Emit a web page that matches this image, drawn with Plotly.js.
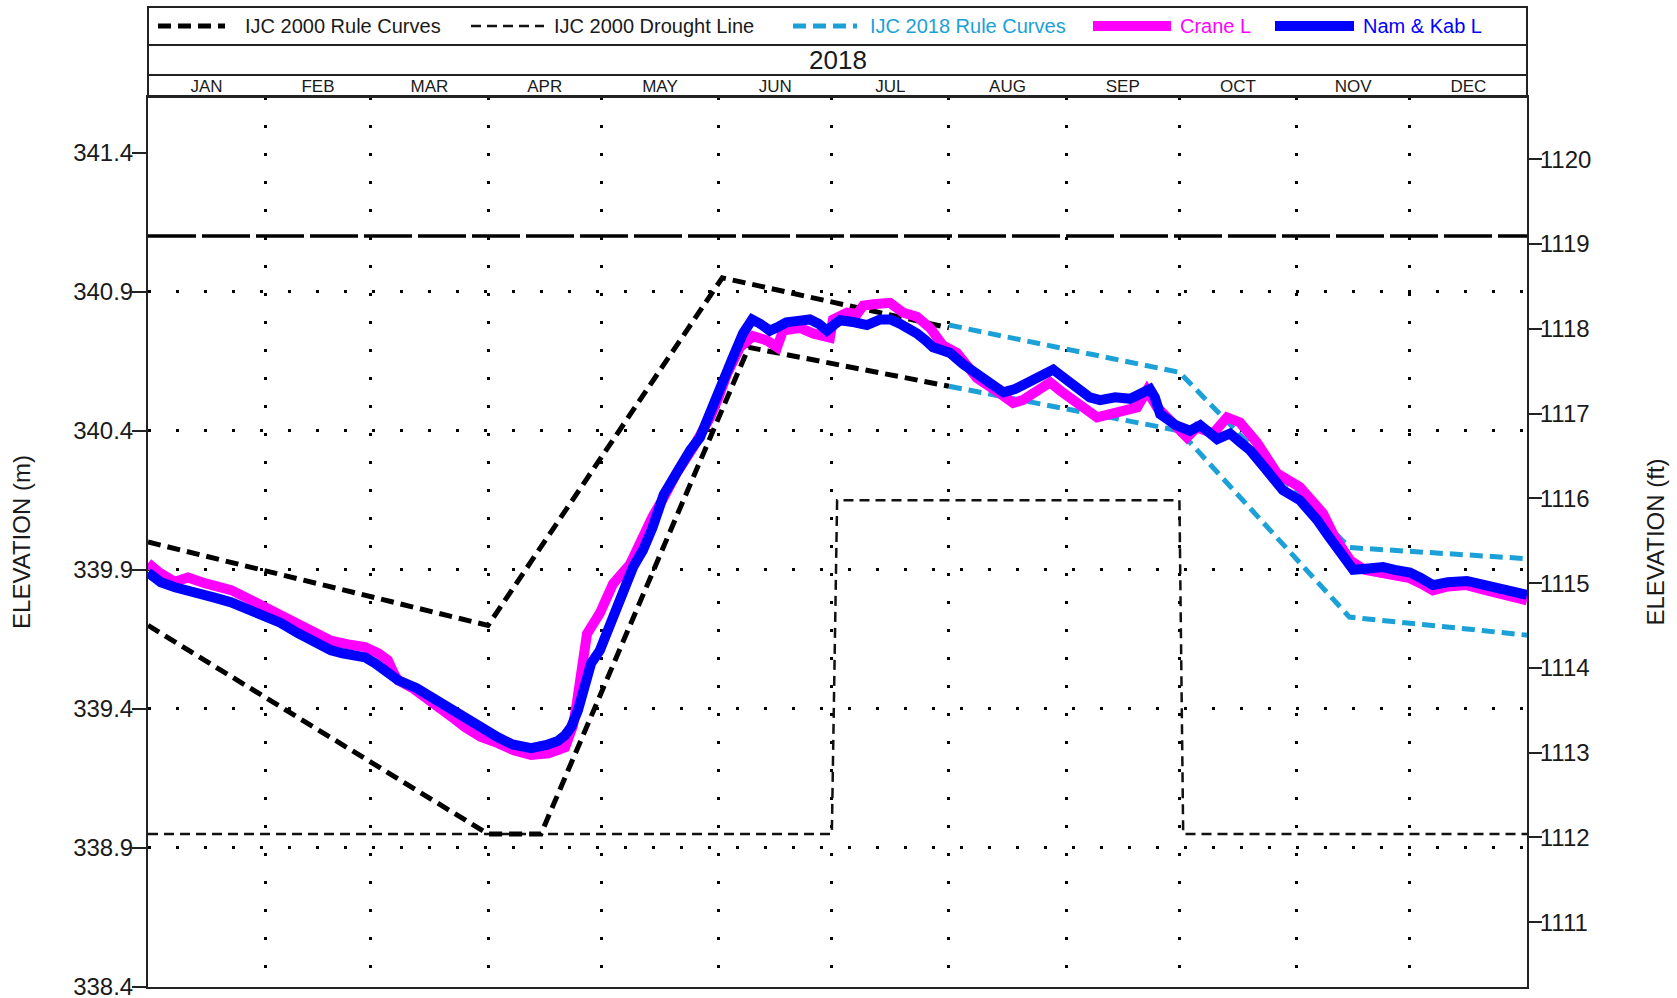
<!DOCTYPE html>
<html><head><meta charset="utf-8">
<script src="https://cdn.plot.ly/plotly-3.0.1.min.js"></script>
<style>html,body{margin:0;padding:0;background:#fff;}#chart{width:1677px;height:998px;}</style>
</head><body><div id="chart"></div>
<script>
// ---------------- data ----------------
const yearLabel = '2018';
const monthLabels = ['JAN','FEB','MAR','APR','MAY','JUN','JUL','AUG','SEP','OCT','NOV','DEC'];
const monthStartDays = [0,31,59,90,120,151,181,212,243,273,304,334,365];
const elevTicksM = [338.4,338.9,339.4,339.9,340.4,340.9,341.4];
const elevTicksFt = [1111,1112,1113,1114,1115,1116,1117,1118,1119,1120];
const gridLevelsM = [338.9,339.4,339.9,340.4,340.9];
const elevRangeM = [338.4,341.6];

const namKabDay = [0,3.4,7.1,13.2,17.6,22,28.9,31,35,39.7,45,48.4,51.5,54.8,57.5,60.1,63,66.2,71,74.9,79,83.9,88.3,92.6,96.5,101.4,105.5,108.5,110.4,112,113.8,115.5,117.3,119.6,121.8,124.1,128.4,131,133.5,136.5,140.7,143.5,146.1,148.5,150.6,152.8,154.8,157.5,159.9,162,164.6,167,169,172,175.2,177.5,179.7,181.5,183.2,187,190.3,193.8,196.5,199,201.5,203.5,205.8,207.8,210,212.3,215.7,219.4,223,226.4,229.5,232.6,236,239.6,241.5,243.2,246,249.3,252,256,260,263,265.2,266.5,267.9,270,272,275.8,278.5,283,286.4,289,291.7,296,300.4,304.9,307,309.4,312.5,315.5,319,323,326.9,330,334,337,340.1,344,349.1,353,357.9,361,365];
const namKabElev = [339.89,339.855,339.837,339.82,339.80,339.783,339.748,339.73,339.71,339.672,339.635,339.611,339.60,339.593,339.585,339.564,339.535,339.503,339.475,339.442,339.41,339.37,339.335,339.298,339.272,339.259,339.27,339.285,339.305,339.335,339.395,339.48,339.564,339.61,339.683,339.755,339.91,339.97,340.05,340.17,340.27,340.33,340.376,340.45,340.52,340.59,340.664,340.75,340.80,340.785,340.76,340.775,340.79,340.795,340.80,340.785,340.76,340.78,340.797,340.79,340.78,340.80,340.80,340.785,340.77,340.75,340.725,340.70,340.69,340.68,340.64,340.606,340.57,340.538,340.55,340.57,340.59,340.62,340.60,340.58,340.55,340.52,340.51,340.52,340.515,340.53,340.55,340.52,340.46,340.44,340.42,340.40,340.42,340.37,340.39,340.36,340.33,340.26,340.186,340.15,340.12,340.08,340.02,339.96,339.90,339.905,339.91,339.90,339.89,339.87,339.845,339.855,339.86,339.848,339.835,339.825,339.81];

const craneDay = [0,3,7.1,10.6,15,22,26,31,35,39.7,44,48.4,53,57.4,61,63.5,65,66.2,70,74.9,79,81.5,83.9,88,92.6,97,101.4,106,110.4,112.5,113.5,114.9,116.2,119.6,123.1,127.6,130.8,133.5,136.5,140,144.3,148.8,151,153.3,156.7,160.1,163.8,166.5,168.1,172.6,176,180.5,181.3,185,187.7,189.3,192,196.4,199.8,203.5,207,210.4,214.1,219.4,225.5,229,231.5,234.3,238.8,241.4,245.9,248.5,251.2,256.5,261.8,264.4,267.1,271.3,275,277.6,281.9,285.6,289,293.5,298.8,304.9,308,311,314,318.2,322,326.9,330,334,337,340.1,344,349.1,353,357.9,361,365];
const craneElev = [339.924,339.89,339.857,339.872,339.852,339.827,339.80,339.765,339.735,339.70,339.67,339.645,339.632,339.622,339.60,339.575,339.53,339.503,339.475,339.43,339.39,339.36,339.334,339.30,339.277,339.25,339.234,339.24,339.262,339.34,339.42,339.58,339.67,339.744,339.85,339.92,340.02,340.09,340.16,340.25,340.34,340.448,340.52,340.606,340.70,340.74,340.725,340.70,340.76,340.77,340.75,340.735,340.80,340.825,340.82,340.85,340.855,340.86,340.825,340.81,340.77,340.707,340.68,340.59,340.534,340.50,340.51,340.534,340.574,340.545,340.498,340.47,340.448,340.466,340.484,340.545,340.484,340.427,340.376,340.412,340.39,340.448,340.43,340.358,340.247,340.197,340.15,340.103,340.02,339.934,339.90,339.888,339.88,339.87,339.85,339.826,339.84,339.845,339.83,339.81,339.80,339.79];

const ijc2000UpperDay = [0,90,152,212];
const ijc2000UpperElev = [340.0,339.70,340.95,340.77];
const ijc2000LowerDay = [0,90,104,159,212];
const ijc2000LowerElev = [339.70,338.95,338.95,340.70,340.56];
const ijc2018UpperDay = [212,273,318,365];
const ijc2018UpperElev = [340.78,340.61,339.98,339.94];
const ijc2018LowerDay = [212,273,318,365];
const ijc2018LowerElev = [340.56,340.40,339.73,339.665];
const droughtDay = [0,181,182.4,273,274,365];
const droughtElev = [338.95,338.95,340.15,340.15,338.95,338.95];
const maxLevelDay = [0,365];
const maxLevelElev = [341.1,341.1];

// ---------------- styling / layout ----------------
const FONT = 'Liberation Sans, Arial, sans-serif';
const INK = '#1a1a1a';
const CYAN = '#1ba1d8';
const FT_PER_M = 1/0.3048;
const monthMid = monthLabels.map((m,i)=>(monthStartDays[i]+monthStartDays[i+1])/2);
const monthBounds = monthStartDays.slice(1,-1);

const L=148,R=1527,T=97,B=987;
const px2x = p => (p-L)/(R-L);
const px2y = p => (B-p)/(B-T);

const ruleStyle = {color:'#000', width:5, dash:'13px,7px'};
const rule18Style = {color:CYAN, width:5, dash:'13px,7px'};
const droughtStyle = {color:'#111', width:2.5, dash:'10px,6px'};

const traces = [
  {x:maxLevelDay, y:maxLevelElev, mode:'lines', line:{color:'#000', width:3.5, dash:'48px,6px'}, name:'Max level', showlegend:false, hoverinfo:'skip'},
  {x:droughtDay, y:droughtElev, mode:'lines', line:droughtStyle, name:'IJC 2000 Drought Line', showlegend:false},
  {x:ijc2000UpperDay, y:ijc2000UpperElev, mode:'lines', line:ruleStyle, name:'IJC 2000 Rule Curves', showlegend:false},
  {x:ijc2000LowerDay, y:ijc2000LowerElev, mode:'lines', line:ruleStyle, name:'IJC 2000 Rule Curves', showlegend:false},
  {x:ijc2018UpperDay, y:ijc2018UpperElev, mode:'lines', line:rule18Style, name:'IJC 2018 Rule Curves', showlegend:false},
  {x:ijc2018LowerDay, y:ijc2018LowerElev, mode:'lines', line:rule18Style, name:'IJC 2018 Rule Curves', showlegend:false},
  {x:craneDay, y:craneElev, mode:'lines', line:{color:'#ff00ff', width:10}, name:'Crane L', showlegend:false},
  {x:namKabDay, y:namKabElev, mode:'lines', line:{color:'#0000ff', width:10}, name:'Nam & Kab L', showlegend:false},
  {x:[], y:[], yaxis:'y2', showlegend:false, hoverinfo:'skip'},
  {x:[], y:[], xaxis:'x2', yaxis:'y3', showlegend:false, hoverinfo:'skip'}
];

// manual legend row inside the header box
const legendItems = [
  {text:'IJC 2000 Rule Curves', line:ruleStyle, tcolor:INK, x0:158, x1:225, tx:243},
  {text:'IJC 2000 Drought Line', line:droughtStyle, tcolor:INK, x0:471, x1:544, tx:552},
  {text:'IJC 2018 Rule Curves', line:rule18Style, tcolor:CYAN, x0:793, x1:857, tx:868},
  {text:'Crane L', line:{color:'#ff00ff', width:10}, tcolor:'#ff00ff', x0:1093, x1:1171, tx:1178},
  {text:'Nam &amp; Kab L', line:{color:'#0000ff', width:10}, tcolor:'#0000ff', x0:1275, x1:1354, tx:1361}
];
const legY = px2y(26);

const frame = {color:'#222', width:2};
const shapes = [
  {type:'rect', xref:'paper', yref:'paper', x0:0, x1:1, y0:1, y1:px2y(7), line:frame},
  {type:'line', xref:'paper', yref:'paper', x0:0, x1:1, y0:px2y(45), y1:px2y(45), line:frame},
  {type:'line', xref:'paper', yref:'paper', x0:0, x1:1, y0:px2y(75), y1:px2y(75), line:frame}
];
const annotations = [
  {text:yearLabel, xref:'paper', yref:'paper', x:0.5, y:px2y(60), xanchor:'center', yanchor:'middle', showarrow:false, font:{family:FONT, size:26, color:INK}}
];
legendItems.forEach(it=>{
  shapes.push({type:'line', xref:'paper', yref:'paper', x0:px2x(it.x0), x1:px2x(it.x1), y0:legY, y1:legY, line:it.line});
  annotations.push({text:it.text, xref:'paper', yref:'paper', x:px2x(it.tx), y:legY, xanchor:'left', yanchor:'middle', showarrow:false, font:{family:FONT, size:20, color:it.tcolor}});
});

const layout = {
  width:1677, height:998,
  margin:{l:L, r:1677-R, t:T, b:998-B, pad:0},
  paper_bgcolor:'#fff', plot_bgcolor:'#fff',
  font:{family:FONT, color:INK},
  showlegend:false,
  xaxis:{range:[0,365], tickvals:monthBounds, showticklabels:false, ticks:'', showgrid:true, gridcolor:'#000', gridwidth:3, griddash:'3px,25px', zeroline:false, showline:true, mirror:true, linecolor:'#222', linewidth:2, fixedrange:true},
  xaxis2:{overlaying:'x', side:'top', anchor:'y', range:[0,365], tickvals:monthMid, ticktext:monthLabels, ticks:'', showgrid:false, zeroline:false, showline:false, tickfont:{family:FONT, size:17, color:INK}, ticklabelstandoff:1},
  yaxis:{range:elevRangeM, tickvals:elevTicksM, ticktext:elevTicksM.map(v=>v.toFixed(1)), ticks:'outside', ticklen:14, tickwidth:2, tickcolor:'#222', ticklabelstandoff:-6, ticklabeloverflow:'allow', showgrid:false, zeroline:false, showline:true, mirror:true, linecolor:'#222', linewidth:2, tickfont:{family:FONT, size:24, color:INK}, title:{text:'ELEVATION (m)', font:{family:FONT, size:24, color:INK}, standoff:36}},
  yaxis2:{overlaying:'y', side:'right', range:elevRangeM.map(v=>v*FT_PER_M), tickvals:elevTicksFt, ticks:'outside', ticklen:14, tickwidth:2, tickcolor:'#222', ticklabelstandoff:-7, showgrid:false, zeroline:false, showline:false, tickfont:{family:FONT, size:24, color:INK}, title:{text:'ELEVATION (ft)', font:{family:FONT, size:24, color:INK}, standoff:56}},
  yaxis3:{overlaying:'y', range:elevRangeM, tickvals:gridLevelsM, showticklabels:false, ticks:'', showgrid:true, gridcolor:'#000', gridwidth:3, griddash:'3px,25px', zeroline:false, showline:false},
  shapes:shapes,
  annotations:annotations
};

Plotly.newPlot('chart', traces, layout, {displayModeBar:false, staticPlot:true});
</script></body></html>
